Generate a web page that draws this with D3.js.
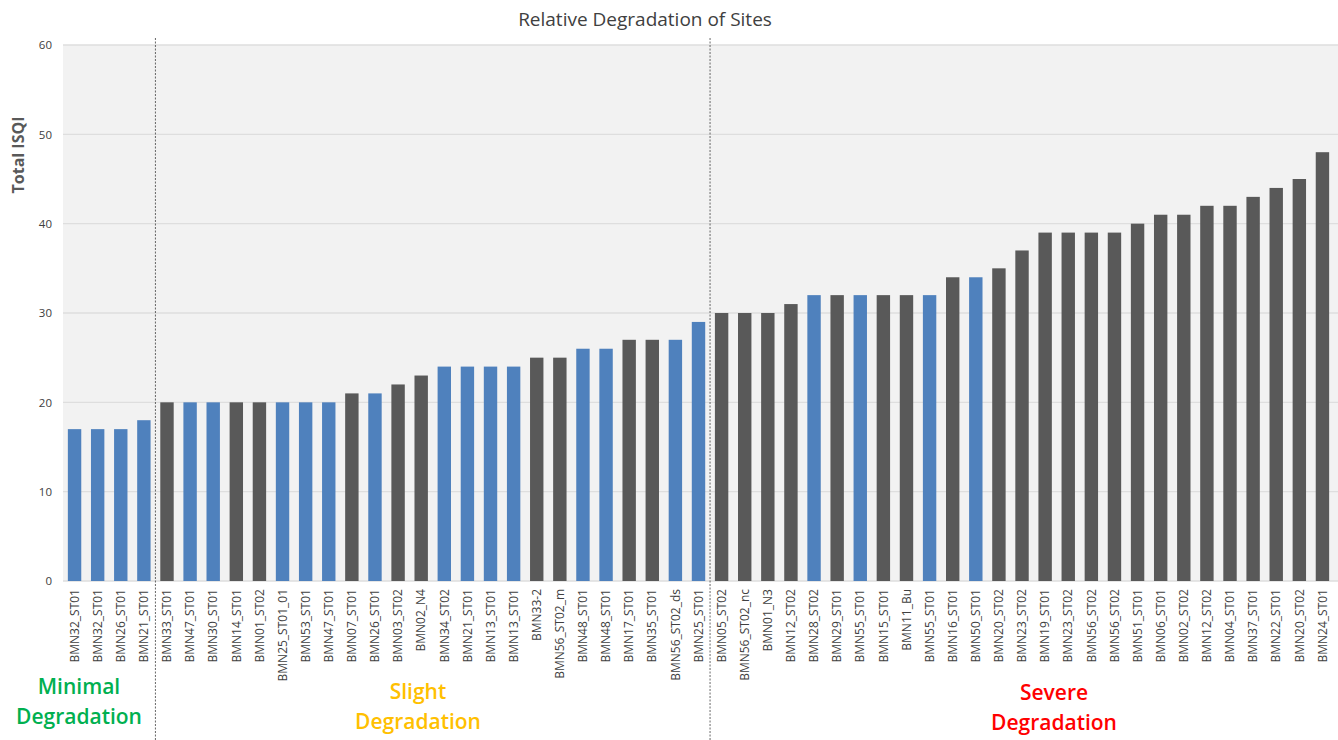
<!DOCTYPE html>
<html><head><meta charset="utf-8">
<script src="https://cdn.jsdelivr.net/npm/d3@7"></script>
<style>body{margin:0;background:#fff;} svg{display:block;}</style>
</head><body>
<svg id="c" width="1338" height="740"></svg>
<script>
const sites = ["BMN32_ST01","BMN32_ST01","BMN26_ST01","BMN21_ST01","BMN33_ST01","BMN47_ST01","BMN30_ST01","BMN14_ST01","BMN01_ST02","BMN25_ST01_01","BMN53_ST01","BMN47_ST01","BMN07_ST01","BMN26_ST01","BMN03_ST02","BMN02_N4","BMN34_ST02","BMN21_ST01","BMN13_ST01","BMN13_ST01","BMN33-2","BMN56_ST02_m","BMN48_ST01","BMN48_ST01","BMN17_ST01","BMN35_ST01","BMN56_ST02_ds","BMN25_ST01","BMN05_ST02","BMN56_ST02_nc","BMN01_N3","BMN12_ST02","BMN28_ST02","BMN29_ST01","BMN55_ST01","BMN15_ST01","BMN11_Bu","BMN55_ST01","BMN16_ST01","BMN50_ST01","BMN20_ST02","BMN23_ST02","BMN19_ST01","BMN23_ST02","BMN56_ST02","BMN56_ST02","BMN51_ST01","BMN06_ST01","BMN02_ST02","BMN12_ST02","BMN04_ST01","BMN37_ST01","BMN22_ST01","BMN20_ST02","BMN24_ST01"];
const isqi = [17,17,17,18,20,20,20,20,20,20,20,20,21,21,22,23,24,24,24,24,25,25,26,26,27,27,27,29,30,30,30,31,32,32,32,32,32,32,34,34,35,37,39,39,39,39,40,41,41,42,42,43,44,45,48];
// site group: "b" = blue, "g" = dark gray
const group = ["b","b","b","b","g","b","b","g","g","b","b","b","g","b","g","g","b","b","b","b","g","g","b","b","g","g","b","b","g","g","g","g","b","g","b","g","g","b","g","b","g","g","g","g","g","g","g","g","g","g","g","g","g","g","g"];
const yTicks = [0,10,20,30,40,50,60];
const classBreaks = [4, 28]; // boundary after these many bars
const classNames = [["Minimal","Degradation"],["Slight","Degradation"],["Severe","Degradation"]];
const classColors = ["#00b050","#ffc000","#ff0000"];
const colors = {b:"#4f81bd", g:"#595959"};

const svg = d3.select("#c");
const m = {l:63, r:1334, t:45, b:581};
const data = sites.map((s,i)=>({id:i, name:s, v:isqi[i], g:group[i]}));

const x = d3.scaleBand().domain(data.map(d=>d.id)).range([m.l, m.r]).paddingInner(0.42).paddingOuter(0.21);
const y = d3.scaleLinear().domain([0,60]).range([m.b, m.t]);

svg.append("rect").attr("x", m.l).attr("y", m.t).attr("width", 1338-m.l).attr("height", m.b-m.t).attr("fill","#f2f2f2");

svg.append("g").selectAll("line").data(yTicks).join("line")
  .attr("x1", m.l).attr("x2", 1338).attr("y1", d=>y(d)).attr("y2", d=>y(d))
  .attr("stroke","#dedede").attr("stroke-width",1.3);

const yAxis = svg.append("g").attr("transform",`translate(${m.l},0)`)
  .call(d3.axisLeft(y).tickValues(yTicks).tickSize(0).tickPadding(11));
yAxis.select(".domain").remove();
yAxis.selectAll("text").attr("font-family","Open Sans").attr("font-size",11.5).attr("fill","#404040");

svg.append("g").selectAll("rect").data(data).join("rect")
  .attr("x", d=>x(d.id)).attr("width", x.bandwidth())
  .attr("y", d=>y(d.v)).attr("height", d=>y(0)-y(d.v))
  .attr("fill", d=>colors[d.g]);

const xAxis = svg.append("g").attr("transform",`translate(0,${m.b})`)
  .call(d3.axisBottom(x).tickSize(0).tickFormat(i=>sites[i]));
xAxis.select(".domain").remove();
xAxis.selectAll("text")
  .attr("font-family","Open Sans").attr("font-size",12).attr("fill","#404040")
  .attr("transform","rotate(-90)").attr("text-anchor","end")
  .attr("x",-8).attr("y",0).attr("dy","0.35em");

// dashed divider lines
svg.append("g").selectAll("line").data(classBreaks).join("line")
  .attr("x1", d=>x(d) - x.step()*x.paddingInner()/2).attr("x2", d=>x(d) - x.step()*x.paddingInner()/2)
  .attr("y1", 38).attr("y2", 740)
  .attr("stroke","#404040").attr("stroke-width",0.8).attr("stroke-dasharray","2,1.5");

// class labels (layout positions)
const labelX = [79, 418, 1054];
const labelY = [694, 699, 700];
classNames.forEach((lines,i)=>{
  const t = svg.append("text").attr("text-anchor","middle")
    .attr("font-family","Open Sans").attr("font-weight",600).attr("font-size",21).attr("fill",classColors[i]);
  lines.forEach((l,k)=>{
    t.append("tspan").attr("x", labelX[i]).attr("y", labelY[i] + k*30).text(l);
  });
});

svg.append("text").attr("x",645).attr("y",26).attr("text-anchor","middle")
  .attr("font-family","Open Sans").attr("font-size",19).attr("fill","#404040")
  .text("Relative Degradation of Sites");

svg.append("text").attr("transform","translate(24,155) rotate(-90)").attr("text-anchor","middle")
  .attr("font-family","Open Sans").attr("font-weight",700).attr("font-size",16).attr("fill","#595959")
  .text("Total ISQI");
</script>
</body></html>
